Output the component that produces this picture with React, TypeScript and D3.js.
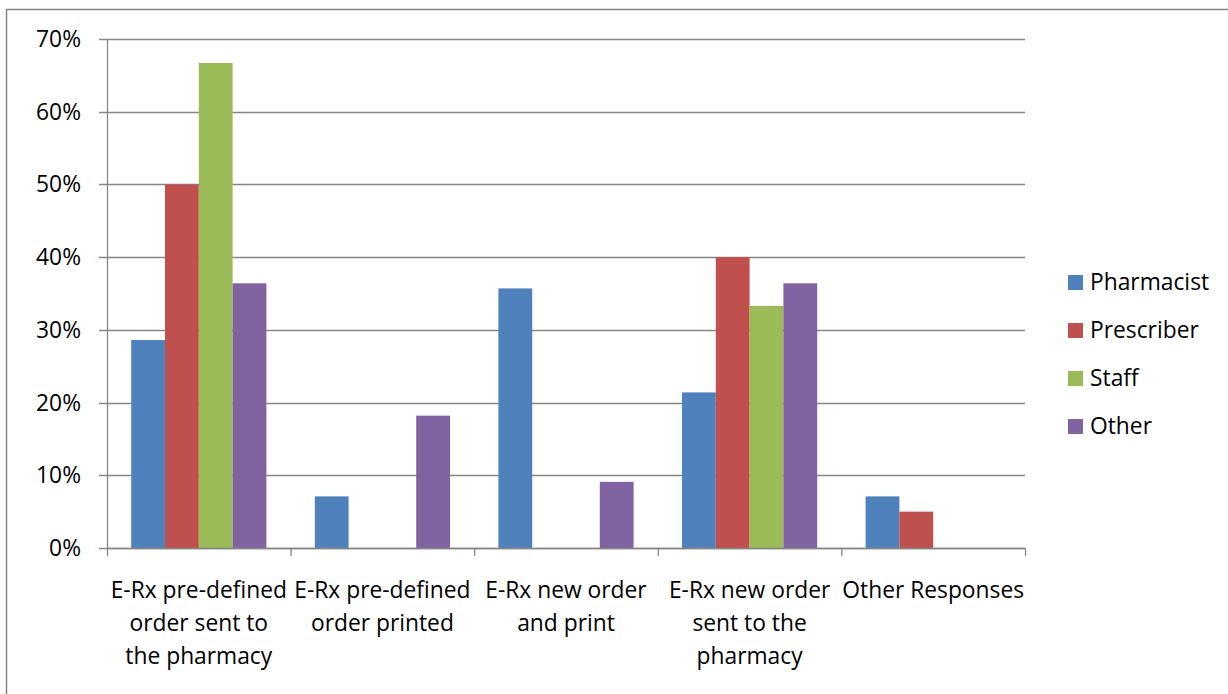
import React from "react";
import * as d3 from "d3";

// Response categories (line breaks mark wrapped axis labels)
const categories = [
  "E-Rx pre-defined\norder sent to\nthe pharmacy",
  "E-Rx pre-defined\norder printed",
  "E-Rx new order\nand print",
  "E-Rx new order\nsent to the\npharmacy",
  "Other Responses",
];

const seriesNames = ["Pharmacist", "Prescriber", "Staff", "Other"];
const seriesColors = ["#4F81BD", "#C0504D", "#9BBB59", "#8064A2"];

// Share of respondents per group, in each category
const pharmacist = [0.286, 0.071, 0.357, 0.214, 0.071];
const prescriber = [0.5, 0, 0, 0.4, 0.05];
const staff = [0.667, 0, 0, 0.333, 0];
const other = [0.364, 0.182, 0.091, 0.364, 0];

const seriesValues = [pharmacist, prescriber, staff, other];
const yTicks = [0, 0.1, 0.2, 0.3, 0.4, 0.5, 0.6, 0.7];

const W = 1228;
const H = 694;
const FONT = "'Open Sans', Lato, sans-serif";
const FS = 22.8;

export default function App() {
  const left = 107;
  const right = 1025;
  const top = 39;
  const bottom = 548;

  const x = d3.scaleBand<string>().domain(categories).range([left, right]).padding(0);
  const inner = d3
    .scaleBand<string>()
    .domain(seriesNames)
    .range([0, x.bandwidth()])
    .paddingInner(0)
    .paddingOuter(0.716);
  const y = d3.scaleLinear().domain([0, 0.7]).range([bottom, top]);
  const fmt = d3.format(".0%");

  const gridColor = "#868686";

  return (
    <svg
      width={W}
      height={H}
      style={{ position: "absolute", left: 0, top: 0, background: "#fff" }}
      fontFamily={FONT}
    >
      <rect x={6.5} y={9.5} width={W + 10} height={H + 10} fill="#fff" stroke="#868686" strokeWidth={1.5} />

      {/* gridlines and y ticks */}
      {yTicks.map((t) => (
        <g key={t}>
          <line x1={left - 8} x2={right} y1={Math.round(y(t)) + 0.5} y2={Math.round(y(t)) + 0.5} stroke={gridColor} strokeWidth={1.3} />
          <text x={81} y={y(t)} dy="0.35em" textAnchor="end" fontSize={FS} fill="#000">
            {fmt(t)}
          </text>
        </g>
      ))}

      {/* value axis */}
      <line x1={left + 0.5} x2={left + 0.5} y1={top} y2={bottom + 8} stroke={gridColor} strokeWidth={1.3} />

      {/* bars */}
      {seriesValues.map((vals, si) =>
        vals.map((v, ci) =>
          v > 0 ? (
            <rect
              key={`${si}-${ci}`}
              x={(x(categories[ci]) as number) + (inner(seriesNames[si]) as number)}
              y={y(v)}
              width={inner.bandwidth()}
              height={y(0) - y(v)}
              fill={seriesColors[si]}
            />
          ) : null
        )
      )}

      {/* category axis */}
      <line x1={left} x2={right} y1={bottom + 0.5} y2={bottom + 0.5} stroke={gridColor} strokeWidth={1.3} />
      {categories.map((c) => (
        <line
          key={"t" + c}
          x1={(x(c) as number) + x.bandwidth() + 0.5}
          x2={(x(c) as number) + x.bandwidth() + 0.5}
          y1={bottom}
          y2={bottom + 8}
          stroke={gridColor}
          strokeWidth={1.3}
        />
      ))}
      {categories.map((c) => (
        <text key={"l" + c} textAnchor="middle" fontSize={FS} fill="#000">
          {c.split("\n").map((line, i) => (
            <tspan key={i} x={(x(c) as number) + x.bandwidth() / 2} y={590 + i * 33} dy="0.35em">
              {line}
            </tspan>
          ))}
        </text>
      ))}

      {/* legend */}
      {seriesNames.map((s, i) => (
        <g key={s} transform={`translate(1068, ${282 + i * 48})`}>
          <rect x={0} y={-7} width={15} height={15} fill={seriesColors[i]} />
          <text x={22} y={0} dy="0.35em" fontSize={FS} fill="#000">
            {s}
          </text>
        </g>
      ))}
    </svg>
  );
}
